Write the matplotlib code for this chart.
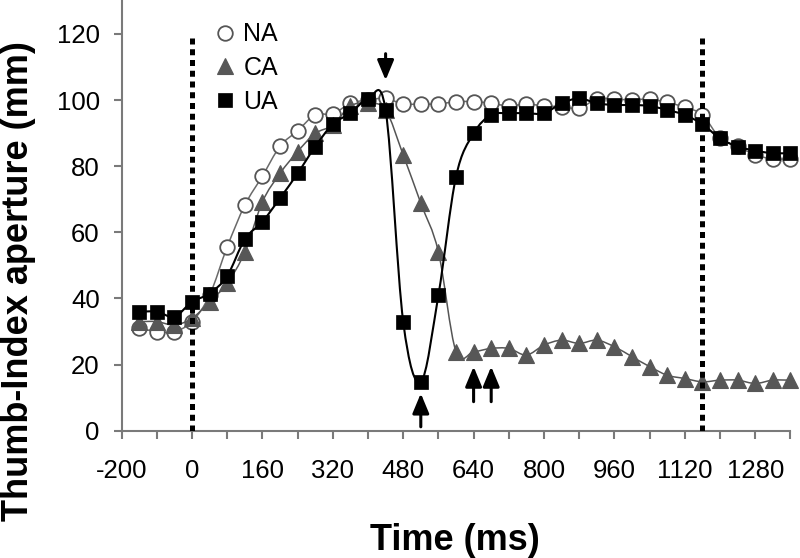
import matplotlib
matplotlib.use('Agg')
import matplotlib.pyplot as plt
import numpy as np
from matplotlib.path import Path
from matplotlib.patches import PathPatch
from matplotlib.lines import Line2D

# sample times (ms) and thumb-index aperture (mm) for the three conditions
time_ms = np.arange(-120, 1361, 40)

na_aperture = [31, 30, 30, 33, 41, 55.6, 68.2, 77, 86, 90.7, 95.5, 95.8, 99, 100,
               100.5, 98.8, 98.8, 98.8, 99.5, 99.5, 99, 98.2, 98.8, 98.2, 98, 97.5,
               100.3, 100.3, 100, 100.3, 99.3, 97.8, 95.5, 88.5, 86, 83.4, 82.2, 82.2]
ca_aperture = [33, 33, 32, 34, 39, 44.6, 54, 69.2, 77.8, 84.4, 89.9, 92.4, 98.2, 99,
               97, 83.4, 68.8, 54.1, 23.9, 23.9, 24.9, 24.9, 22.9, 25.9, 27.4, 26.4,
               27.4, 25.4, 22.4, 19.4, 16.8, 15.8, 14.8, 15.3, 15.3, 14.3, 15.3, 15.3]
ua_aperture = [36, 36, 34.5, 39, 41.5, 46.8, 57.9, 63.2, 70.3, 77.8, 85.9, 92.7, 96,
               100.2, 97, 33, 14.8, 41, 76.8, 89.9, 95.5, 96, 96, 96, 99, 100.5, 99,
               98.5, 98.5, 98.2, 97, 95.5, 92.7, 88.4, 85.9, 84.7, 83.9, 84]

event_lines = [0, 1160]
# arrows: (time, tail, tip)
arrow_x = [440, 520, 640, 680]
arrow_tail = [114, 1.2, 8.8, 8.8]
arrow_tip = [106, 11.3, 19.4, 19.4]

xtick_pos = [-160, 0, 160, 320, 480, 640, 800, 960, 1120, 1280]
xtick_text = ['-200', '0', '160', '320', '480', '640', '800', '960', '1120', '1280']
yticks = [0, 20, 40, 60, 80, 100, 120]

plt.rcParams['font.family'] = ['Liberation Sans', 'DejaVu Sans']


def smooth_path(x, y):
    # excel-style smoothed line (catmull-rom as cubic bezier)
    pts = np.column_stack([x, y]).astype(float)
    n = len(pts)
    verts = [pts[0]]
    codes = [Path.MOVETO]
    for i in range(n - 1):
        p0 = pts[i - 1] if i > 0 else pts[i]
        p1, p2 = pts[i], pts[i + 1]
        p3 = pts[i + 2] if i + 2 < n else pts[i + 1]
        verts += [p1 + (p2 - p0) / 6, p2 - (p3 - p1) / 6, p2]
        codes += [Path.CURVE4] * 3
    return Path(verts, codes)


fig = plt.figure(figsize=(8, 5.58), dpi=100)
ax = fig.add_axes([0.152, 0.228, 0.836, 0.7706])

series = [
    ('NA', na_aperture, '#6a6a6a', 1.1, dict(marker='o', mfc='white', mec='#555555', mew=1.3, ms=10.5)),
    ('CA', ca_aperture, '#555555', 1.1, dict(marker='^', mfc='#575757', mec='#575757', mew=0.8, ms=11)),
    ('UA', ua_aperture, 'black', 1.5, dict(marker='s', mfc='black', mec='black', mew=0.5, ms=9.5)),
]

handles = []
for k, (name, vals, lc, lw, mk) in enumerate(series):
    ax.add_patch(PathPatch(smooth_path(time_ms, vals), facecolor='none',
                           edgecolor=lc, lw=lw, zorder=2 + 2 * k))
    ax.plot(time_ms, vals, linestyle='none', zorder=3 + 2 * k, clip_on=False, **mk)
    handles.append(Line2D([], [], linestyle='none', **mk, label=name))

for xv in event_lines:
    ax.plot([xv, xv], [0, 120], color='black', lw=3.6, linestyle=(0, (1.2, 0.95)),
            zorder=10)

for xa, yt, yh in zip(arrow_x, arrow_tail, arrow_tip):
    ax.annotate('', xy=(xa, yh), xytext=(xa, yt),
                arrowprops=dict(arrowstyle='-|>,head_width=0.25,head_length=0.6',
                                color='black', lw=2.2, shrinkA=0, shrinkB=0,
                                mutation_scale=20), zorder=11)

ax.set_xlim(-160, 1360)
ax.set_ylim(0, 130)
ax.set_xticks(xtick_pos)
ax.set_xticklabels(xtick_text)
ax.set_xticks(np.arange(-80, 1361, 160), minor=True)
ax.set_yticks(yticks)

for s in ['top', 'right']:
    ax.spines[s].set_visible(False)
for s in ['left', 'bottom']:
    ax.spines[s].set_color('#7a7a7a')
    ax.spines[s].set_linewidth(1.5)
ax.tick_params(which='both', direction='out', length=5.8, width=1.5, color='#7a7a7a',
               labelsize=18.5)
ax.tick_params(axis='x', pad=14.5)
ax.tick_params(axis='y', pad=10)

fig.text(0.568, 0.0143, 'Time (ms)', ha='center', va='baseline', fontsize=26,
         fontweight='bold')
fig.text(0.035, 0.497, 'Thumb-Index aperture (mm)', rotation=90, rotation_mode='anchor',
         ha='center', va='baseline', fontsize=26, fontweight='bold')

ax.legend(handles=handles, loc='upper left', bbox_to_anchor=(0.139, 0.95),
          frameon=False, handlelength=0.8, handletextpad=0.35, labelspacing=0.39,
          borderpad=0, borderaxespad=0, fontsize=18)

fig.savefig('out.png', dpi=100)
